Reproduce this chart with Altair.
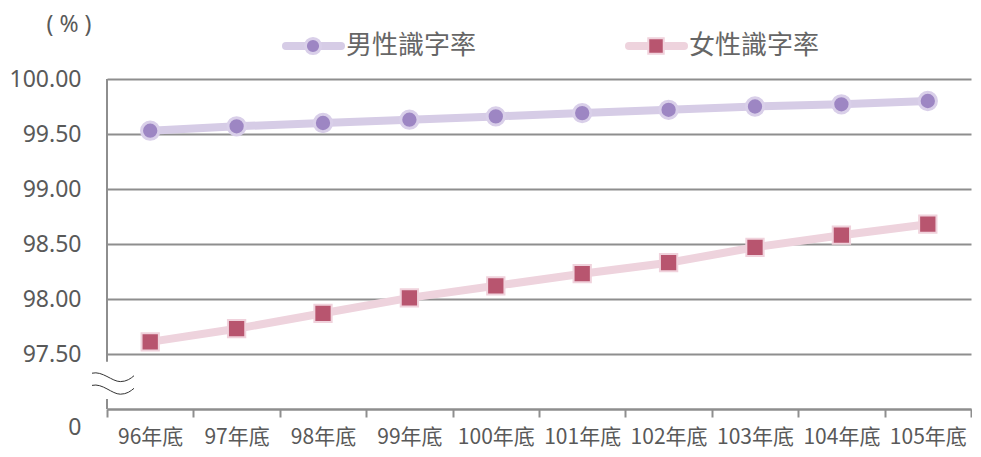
import altair as alt
import pandas as pd

years = ["96年底", "97年底", "98年底", "99年底", "100年底",
         "101年底", "102年底", "103年底", "104年底", "105年底"]
male = [99.53, 99.57, 99.60, 99.63, 99.66, 99.69, 99.72, 99.75, 99.77, 99.80]
female = [97.61, 97.73, 97.87, 98.01, 98.12, 98.23, 98.33, 98.47, 98.58, 98.68]
series = ["男性識字率", "女性識字率"]
y_ticks = [97.0, 97.5, 98.0, 98.5, 99.0, 99.5, 100.0]
unit_label = "(   %   )"

male_df = pd.DataFrame({"year": years, "value": male, "series": series[0]})
female_df = pd.DataFrame({"year": years, "value": female, "series": series[1]})

GRAY = "#8e8e8e"
LABEL = "#595959"
M_LINE, M_FILL, M_EDGE = "#d6cce6", "#9d86c3", "#d9cfe9"
F_LINE, F_FILL, F_EDGE = "#eed3dd", "#b8556f", "#f0d2dc"

x_enc = alt.X(
    "year:N", sort=years, bandPosition=0.5,
    scale=alt.Scale(type="band", paddingInner=0, paddingOuter=0),
    axis=alt.Axis(title=None, labelAngle=0, tickBand="extent", grid=False,
                  labelFont="Noto Sans CJK TC", labelFontSize=21, labelColor=LABEL,
                  labelPadding=9, tickSize=8, tickWidth=2, tickColor=GRAY,
                  domainColor=GRAY, domainWidth=2),
)
y_enc = alt.Y(
    "value:Q",
    scale=alt.Scale(domain=[97, 100], nice=False, zero=False),
    axis=alt.Axis(title=None, values=y_ticks, ticks=False, domain=False,
                  labelExpr="datum.value == 97 ? '0' : format(datum.value, '.2f')",
                  labelOffset={"condition": {"test": "datum.value == 97", "value": 18}, "value": 0},
                  labelFont="Noto Sans", labelFontSize=23, labelColor=LABEL, labelPadding=26,
                  grid=True, gridColor=GRAY, gridWidth=2),
)

male_line = alt.Chart(male_df).mark_line(color=M_LINE, strokeWidth=8).encode(x=x_enc, y=y_enc)
male_pts = alt.Chart(male_df).mark_point(
    shape="circle", filled=True, fill=M_FILL, stroke=M_EDGE, strokeWidth=3, size=300, opacity=1
).encode(x=x_enc, y=y_enc)
female_line = alt.Chart(female_df).mark_line(color=F_LINE, strokeWidth=8).encode(x=x_enc, y=y_enc)
female_pts = alt.Chart(female_df).mark_point(
    shape="square", filled=True, fill=F_FILL, stroke=F_EDGE, strokeWidth=2, size=300, opacity=1
).encode(x=x_enc, y=y_enc)

# y axis line drawn in two pieces around the break
brk_df = pd.DataFrame({"a": [1]})
axis_top = alt.Chart(brk_df).mark_rule(color=GRAY, strokeWidth=2).encode(
    x=alt.value(0), y=alt.datum(97.43), y2=alt.datum(100))
axis_bot = alt.Chart(brk_df).mark_rule(color=GRAY, strokeWidth=2).encode(
    x=alt.value(0), y=alt.datum(97.0), y2=alt.datum(97.09))
WAVE = ("M-1,-0.5 C-0.5,-0.62 -0.05,-0.1 0.35,-0.1 C0.65,-0.1 0.85,-0.25 1,-0.38 "
        "M-1,0.08 C-0.5,-0.04 -0.05,0.5 0.35,0.5 C0.65,0.5 0.85,0.35 1,0.22")
squiggle = alt.Chart(brk_df).mark_point(
    shape=WAVE, filled=False, stroke="#333333", strokeWidth=1, size=1764, opacity=1
).encode(x=alt.value(6), y=alt.datum(97.23))

# legend
def legend_item(label, line_col, shape, fill, edge, sw, size, x0):
    d = pd.DataFrame({"label": [label]})
    seg = alt.Chart(d).mark_rule(color=line_col, strokeWidth=8, strokeCap="round").encode(
        x=alt.value(x0), x2=alt.value(x0 + 55), y=alt.value(-33))
    sym = alt.Chart(d).mark_point(shape=shape, filled=True, fill=fill, stroke=edge,
                                  strokeWidth=sw, size=size, opacity=1).encode(
        x=alt.value(x0 + 27), y=alt.value(-33))
    txt = alt.Chart(d).mark_text(align="left", baseline="middle", fontSize=26,
                                 font="Noto Sans CJK TC", color="#666666").encode(
        x=alt.value(x0 + 60), y=alt.value(-33), text="label:N")
    return [seg, sym, txt]

leg = legend_item(series[0], M_LINE, "circle", M_FILL, M_EDGE, 3, 230, 179) + \
      legend_item(series[1], F_LINE, "square", F_FILL, F_EDGE, 2, 240, 522)

unit = alt.Chart(pd.DataFrame({"t": [unit_label]})).mark_text(
    fontSize=23, font="Noto Sans", color=LABEL, align="center", baseline="middle"
).encode(x=alt.value(-38), y=alt.value(-54), text="t:N")

chart = alt.layer(axis_top, axis_bot, squiggle, female_line, male_line, female_pts, male_pts,
                  unit, *leg).properties(
    width=864, height=330,
    padding={"left": 1, "top": 6, "right": 0, "bottom": 3},
    background="white",
).configure_view(stroke=None)

chart.save("out.html", embed_options={"renderer": "svg", "actions": False})
